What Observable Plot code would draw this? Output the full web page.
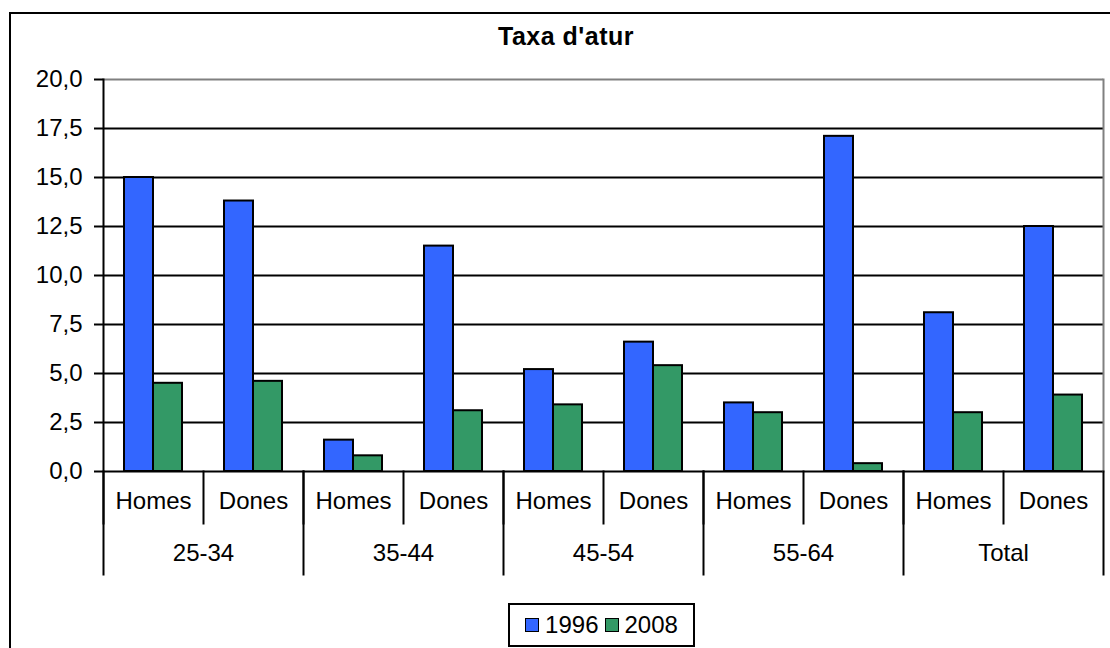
<!DOCTYPE html>
<html>
<head>
<meta charset="utf-8">
<script src="https://cdn.jsdelivr.net/npm/d3@7"></script>
<script src="https://cdn.jsdelivr.net/npm/@observablehq/plot@0.6"></script>
<style>
  html, body { margin: 0; padding: 0; background: #fff; width: 1110px; height: 648px; overflow: hidden; }
  body { font-family: "Liberation Sans", Arial, sans-serif; position: relative; }
  #frame { position: absolute; left: 9px; top: 12px; width: 1200px; height: 700px; border-left: 2px solid #000; border-top: 2px solid #000; box-sizing: border-box; }
  #title { position: absolute; left: 0; width: 1132px; top: 21px; text-align: center; font-weight: bold; font-size: 25px; line-height: 30px; color: #000; letter-spacing: 0.5px; }
  #chart { position: absolute; left: 0; top: 60px; }
  #legend { position: absolute; left: 508px; top: 603px; width: 187px; height: 44px; border: 2px solid #000; box-sizing: border-box; display: flex; align-items: center; justify-content: center; font-size: 24px; color: #000; }
  .sw { display: inline-block; width: 12px; height: 12px; border: 1.5px solid #000; margin-right: 6px; }
  .item { display: flex; align-items: center; margin: 0 3px; }
</style>
</head>
<body>
<div id="frame"></div>
<div id="title">Taxa d'atur</div>
<div id="chart"></div>
<div id="legend"></div>
<script>
const groups = ["25-34", "35-44", "45-54", "55-64", "Total"];
const sexes = ["Homes", "Dones"];
const years = ["1996", "2008"];
const values1996 = [15.0, 13.8, 1.6, 11.5, 5.2, 6.6, 3.5, 17.1, 8.1, 12.5];
const values2008 = [4.5, 4.6, 0.8, 3.1, 3.4, 5.4, 3.0, 0.4, 3.0, 3.9];
const yTicks = [0, 2.5, 5, 7.5, 10, 12.5, 15, 17.5, 20];
const colors = ["#3366FF", "#339966"];

const keys = groups.flatMap(g => sexes.map(s => g + "|" + s));
const data = keys.flatMap((k, i) => years.map((yr, j) => ({
  key: k, year: yr, value: (j === 0 ? values1996 : values2008)[i]
})));

const W = 1110, H = 520, mTop = 19, mBottom = 109, mLeft = 101, mRight = 5;
const plotH = H - mTop - mBottom;
const fmt = d => d.toFixed(1).replace(".", ",");
const font = 24;

const marks = [
  Plot.ruleY(yTicks.filter(t => t < 20), {stroke: "#000", strokeWidth: 1.8}),
  Plot.ruleY([20], {stroke: "#808080", strokeWidth: 2}),
  Plot.barY(data, {fx: "key", x: "year", y: "value", fill: "year", stroke: "#000", strokeWidth: 2}),
  Plot.axisY({ticks: yTicks, tickFormat: fmt, tickSize: 9, tickPadding: 12, fontSize: font, stroke: "#000", strokeWidth: 2, fill: "#000", label: null}),
  Plot.frame({anchor: "left", insetTop: plotH, insetBottom: -52, stroke: "#000", strokeWidth: 2}),
  ...groups.map((g, i) => Plot.frame({anchor: "left", fx: g + "|Homes", insetTop: i === 0 ? 0 : plotH, insetBottom: -103, stroke: "#000", strokeWidth: 2})),
  Plot.frame({anchor: "right", fx: keys[keys.length - 1], stroke: "#808080", strokeWidth: 2}),
  Plot.frame({anchor: "right", fx: keys[keys.length - 1], insetTop: plotH, insetBottom: -103, stroke: "#000", strokeWidth: 2}),
  Plot.text(keys, {fx: d => d, text: d => d.split("|")[1], frameAnchor: "bottom", dy: 37, fontSize: font, fill: "#000"}),
  Plot.text(groups, {fx: g => g + "|Homes", text: d => d, frameAnchor: "bottom-right", textAnchor: "middle", dy: 89, fontSize: font, fill: "#000"})
];

const chart = Plot.plot({
  width: W, height: H,
  marginTop: mTop, marginBottom: mBottom, marginLeft: mLeft, marginRight: mRight,
  style: {fontFamily: '"Liberation Sans", Arial, sans-serif', fontSize: font + "px", color: "#000", background: "transparent", overflow: "visible"},
  fx: {domain: keys, paddingInner: 0, paddingOuter: 0, axis: null, label: null},
  x: {domain: years, paddingInner: 0, paddingOuter: 0.7, axis: null},
  y: {domain: [0, 20], axis: null, label: null},
  color: {domain: years, range: colors},
  marks
});
document.getElementById("chart").appendChild(chart);

const legend = document.getElementById("legend");
years.forEach((yr, i) => {
  const item = document.createElement("span");
  item.className = "item";
  const sw = document.createElement("span");
  sw.className = "sw";
  sw.style.background = colors[i];
  item.appendChild(sw);
  item.appendChild(document.createTextNode(yr));
  legend.appendChild(item);
});
</script>
</body>
</html>
